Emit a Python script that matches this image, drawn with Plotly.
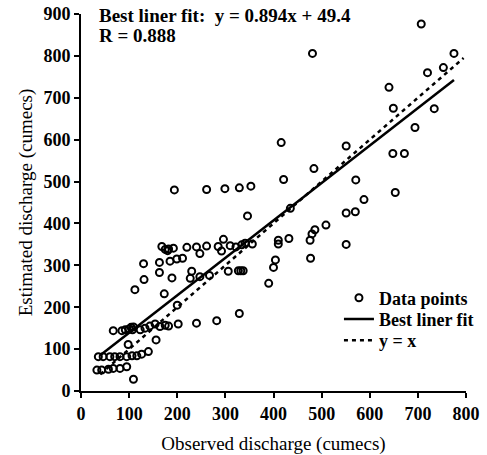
import plotly.graph_objects as go

# Observed (x) and estimated (y) discharge, cumecs
obs = [707, 481, 775, 753, 720, 640, 649, 734, 694, 648, 672, 653, 416, 551, 484, 421, 571, 588,
       435, 551, 570, 509, 486, 480, 476, 432, 410, 410, 551, 477, 404, 400, 390,
       194, 261, 299, 329, 353, 346,
       356, 334, 341, 322, 310, 296, 285, 292, 261, 247, 240, 220, 192, 182, 168, 175, 180,
       211, 199, 185, 163, 130, 163, 189, 131, 112, 173,
       230, 227, 247, 267, 306, 327, 332, 337,
       240, 282, 329, 202, 200,
       67, 85, 92, 100, 104, 107, 109, 123, 133, 143, 154, 164, 175, 182,
       36, 46, 60, 70, 81, 95, 106, 116, 126, 140,
       33, 43, 57, 67, 81, 95,
       109, 98, 156]
est = [876, 806, 806, 772, 760, 725, 675, 674, 629, 567, 567, 474, 593, 585, 531, 505, 504, 457,
       436, 425, 428, 396, 385, 375, 360, 364, 360, 351, 350, 317, 313, 295, 257,
       480, 481, 483, 485, 489, 418,
       351, 349, 353, 344, 347, 362, 345, 334, 346, 328, 344, 343, 341, 339, 345, 338, 335,
       317, 315, 310, 307, 304, 283, 270, 266, 242, 232,
       286, 269, 273, 276, 286, 287, 287, 287,
       162, 168, 185, 160, 205,
       144, 144, 146, 148, 152, 146, 153, 146, 150, 155, 160, 154, 157, 155,
       82, 82, 82, 82, 82, 82, 84, 84, 88, 94,
       50, 50, 52, 54, 54, 58,
       28, 111, 122]

fit_x = [40, 775]
fit_slope, fit_intercept = 0.894, 49.4
fit_y = [fit_slope * v + fit_intercept for v in fit_x]
ident_x = [40, 795]

x_ticks = [0, 100, 200, 300, 400, 500, 600, 700, 800]
y_ticks = [0, 100, 200, 300, 400, 500, 600, 700, 800, 900]

FONT = "Liberation Serif"

fig = go.Figure()
fig.add_trace(go.Scatter(
    x=obs, y=est, mode="markers", name="Data points", legend="legend",
    marker=dict(symbol="circle-open", size=7, color="black", line=dict(width=2, color="black")),
    cliponaxis=False))
fig.add_trace(go.Scatter(
    x=fit_x, y=fit_y, mode="lines", name="Best liner fit", legend="legend2",
    line=dict(color="black", width=2.5)))
fig.add_trace(go.Scatter(
    x=ident_x, y=ident_x, mode="lines", name="y = x", legend="legend3",
    line=dict(color="black", width=2.5, dash="4px,4px")))

axis_common = dict(
    showline=True, linecolor="black", linewidth=2,
    ticks="outside", ticklen=5, tickwidth=2, tickcolor="black",
    showgrid=False, zeroline=False, automargin=False,
    tickfont=dict(family=FONT, size=18, color="black", weight="bold"),
)

legend_common = dict(x=0.670, xanchor="left", yanchor="middle",
                     bgcolor="rgba(0,0,0,0)", borderwidth=0,
                     font=dict(family=FONT, size=18, color="black", weight="bold"),
                     itemwidth=30)

fig.update_layout(
    width=487, height=455,
    margin=dict(l=81, r=21, t=14, b=64, autoexpand=False),
    paper_bgcolor="white", plot_bgcolor="white",
    font=dict(family=FONT, color="black"),
    xaxis=dict(range=[0, 800], tickvals=x_ticks, ticktext=[str(v) for v in x_ticks],
               title=dict(text="Observed discharge (cumecs)", font=dict(family=FONT, size=19, color="black"), standoff=14),
               **axis_common),
    yaxis=dict(range=[0, 900], tickvals=y_ticks, ticktext=[str(v) for v in y_ticks],
               title=dict(text="Estimated discharge (cumecs)", font=dict(family=FONT, size=19, color="black"), standoff=6),
               **axis_common),
    legend=dict(y=0.2467, **legend_common),
    legend2=dict(y=0.1900, **legend_common),
    legend3=dict(y=0.1340, **legend_common),
    showlegend=True,
    annotations=[
        dict(text="Best liner fit:\u00a0 y = 0.894x + 49.4", xref="paper", yref="paper",
             x=0.041, y=0.997, xanchor="left", yanchor="middle", showarrow=False,
             font=dict(family=FONT, size=19, color="black", weight="bold")),
        dict(text="R = 0.888", xref="paper", yref="paper",
             x=0.041, y=0.942, xanchor="left", yanchor="middle", showarrow=False,
             font=dict(family=FONT, size=19, color="black", weight="bold")),
    ],
)

fig.write_html("out.html", config={"displayModeBar": False},
               post_script="document.body.style.margin='0px';")
